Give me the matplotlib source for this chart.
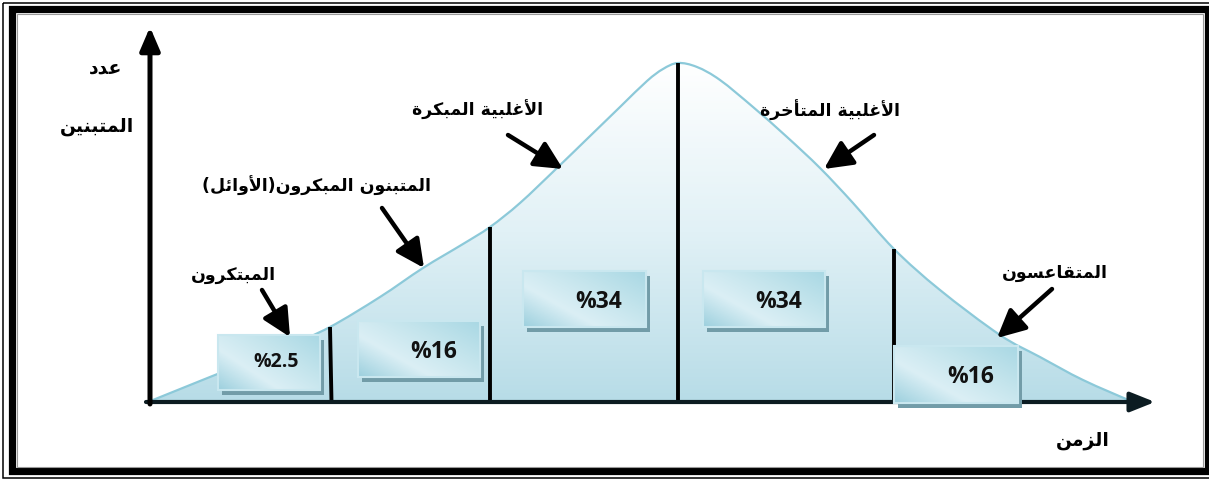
import numpy as np
import matplotlib
matplotlib.use("Agg")
import matplotlib.pyplot as plt
from matplotlib.patches import Rectangle, PathPatch
from matplotlib.path import Path
from matplotlib.colors import LinearSegmentedColormap

# ---------------- data ----------------
# bell curve: time (t) vs number of adopters (n)
curve_t = [0, 52, 102, 142, 182, 232, 275, 315, 342, 372, 409, 439, 472, 499,
           515, 530, 549, 572, 605, 639, 672, 705, 746, 792, 852, 892, 935, 985]
curve_n = [0, 21, 41, 57, 75, 105, 134, 158, 175, 199, 234, 263, 295, 321,
           333, 339, 335, 322, 295, 265, 234, 199, 153, 112, 67, 45, 22, 0]
divider_t = [182, 342, 530, 746]
box_labels = ["%2.5", "%16", "%34", "%34", "%16"]
group_labels = ["المبتكرون", "المتبنون المبكرون(الأوائل)", "الأغلبية المبكرة",
                "الأغلبية المتأخرة", "المتقاعسون"]
y_label = ["عدد", "المتبنين"]
x_label = "الزمن"

# ---------------- arabic shaping (matplotlib has no complex text layout) ----
FORMS = {
    'ا': (0xFE8D, 0xFE8E, None, None), 'أ': (0xFE83, 0xFE84, None, None),
    'ب': (0xFE8F, 0xFE90, 0xFE91, 0xFE92), 'ة': (0xFE93, 0xFE94, None, None),
    'ت': (0xFE95, 0xFE96, 0xFE97, 0xFE98), 'خ': (0xFEA5, 0xFEA6, 0xFEA7, 0xFEA8),
    'د': (0xFEA9, 0xFEAA, None, None), 'ر': (0xFEAD, 0xFEAE, None, None),
    'ز': (0xFEAF, 0xFEB0, None, None), 'س': (0xFEB1, 0xFEB2, 0xFEB3, 0xFEB4),
    'ع': (0xFEC9, 0xFECA, 0xFECB, 0xFECC), 'غ': (0xFECD, 0xFECE, 0xFECF, 0xFED0),
    'ق': (0xFED5, 0xFED6, 0xFED7, 0xFED8), 'ك': (0xFED9, 0xFEDA, 0xFEDB, 0xFEDC),
    'ل': (0xFEDD, 0xFEDE, 0xFEDF, 0xFEE0), 'م': (0xFEE1, 0xFEE2, 0xFEE3, 0xFEE4),
    'ن': (0xFEE5, 0xFEE6, 0xFEE7, 0xFEE8), 'و': (0xFEED, 0xFEEE, None, None),
    'ي': (0xFEF1, 0xFEF2, 0xFEF3, 0xFEF4), 'ئ': (0xFE89, 0xFE8A, 0xFE8B, 0xFE8C),
}
LAMALEF = {'ا': (0xFEFB, 0xFEFC), 'أ': (0xFEF7, 0xFEF8)}


def shape(s):
    res = []
    i, n = 0, len(s)
    while i < n:
        c = s[i]
        if c not in FORMS:
            res.append(c)
            i += 1
            continue
        prev = s[i - 1] if i > 0 else None
        jp = prev in FORMS and FORMS[prev][2] is not None
        if c == 'ل' and i + 1 < n and s[i + 1] in LAMALEF:
            lig = LAMALEF[s[i + 1]]
            res.append(chr(lig[1] if jp else lig[0]))
            i += 2
            continue
        nxt = s[i + 1] if i + 1 < n else None
        jn = FORMS[c][2] is not None and nxt in FORMS
        f = FORMS[c]
        if jp and jn:
            g = f[3]
        elif jp:
            g = f[1]
        elif jn:
            g = f[2]
        else:
            g = f[0]
        res.append(chr(g))
        i += 1
    vis = ''.join(reversed(res))
    return vis.translate(str.maketrans('()', ')('))


# ---------------- figure ----------------
W, H = 1209, 480
fig = plt.figure(figsize=(W / 100, H / 100), dpi=100)
fig.patch.set_facecolor('white')

# frame axes in pixel coordinates
fr = fig.add_axes([0, 0, 1, 1])
fr.set_xlim(0, W)
fr.set_ylim(H, 0)
fr.axis('off')
fr.add_patch(Rectangle((2.5, 2.5), 1230, 475.5, fill=False, ec='black', lw=1.1))
fr.add_patch(Rectangle((11.5, 9), 1196, 462, fill=False, ec='black', lw=5.2))
fr.add_patch(Rectangle((16.5, 13.5), 1186, 453, fill=False, ec='#9a9a9a', lw=0.8))

# chart axes: origin at pixel (148, 402)
OX, OY = 148, 402
ax = fig.add_axes([0, 0, 1, 1])
ax.set_xlim(-OX, W - OX)
ax.set_ylim(OY - H, OY)
ax.axis('off')
ax.patch.set_alpha(0)


def P(px, py):
    return (px - OX, OY - py)


t = np.array(curve_t, float)
nn = np.array(curve_n, float)
# smooth drawing through the read points (Catmull-Rom -> cubic Bezier)
pts = np.column_stack([t, nn])
verts = [tuple(pts[0])]
codes = [Path.MOVETO]
for k in range(len(pts) - 1):
    p0 = pts[k - 1] if k > 0 else pts[k]
    p1 = pts[k]
    p2 = pts[k + 1]
    p3 = pts[k + 2] if k + 2 < len(pts) else pts[k + 1]
    c1 = p1 + (p2 - p0) / 6
    c2 = p2 - (p3 - p1) / 6
    verts += [tuple(c1), tuple(c2), tuple(p2)]
    codes += [Path.CURVE4] * 3
curve_path = Path(verts, codes)
fill_path = Path(verts + [(t[0], 0), (t[0], 0)],
                 codes + [Path.LINETO, Path.CLOSEPOLY])

fp = PathPatch(fill_path, fc='none', ec='none')
ax.add_patch(fp)
grad_cmap = LinearSegmentedColormap.from_list('g', ['#ffffff', '#e1f1f6', '#b7dce7'])
g = np.linspace(0, 1, 256).reshape(-1, 1)
im = ax.imshow(g, cmap=grad_cmap, extent=(t.min(), t.max(), 0, nn.max()),
               origin='upper', aspect='auto', zorder=1, interpolation='bilinear')
im.set_clip_path(fp)
ax.add_patch(PathPatch(curve_path, fc='none', ec='#8cc9d9', lw=1.6, zorder=2))

# dividers
tops = np.interp(divider_t, t, nn)
for k, (dx, top) in enumerate(zip(divider_t, tops)):
    ax.plot([dx, dx + (1.5 if k == 0 else 0)], [top, 0], color='black',
            lw=2.8, solid_capstyle='butt', zorder=3)

# axes arrows
ax.annotate('', xy=P(1155, 402), xytext=P(146, 402),
            arrowprops=dict(arrowstyle='-|>,head_length=0.75,head_width=0.3',
                            lw=3.0, color='#0c1c22', mutation_scale=20,
                            shrinkA=0, shrinkB=0), zorder=4)
ax.annotate('', xy=P(150, 27), xytext=P(150, 404),
            arrowprops=dict(arrowstyle='-|>,head_length=0.7,head_width=0.3',
                            lw=3.6, color='black', mutation_scale=20,
                            shrinkA=0, shrinkB=0), zorder=4)

# boxes
box_pix = [(218, 335, 102, 55), (358, 321, 122, 56), (523, 271, 123, 56),
           (703, 271, 122, 56), (894, 346, 124, 57)]
text_pix = [(276, 362), (434, 352), (599, 302), (779, 302), (971, 377)]
text_size = [14, 16.5, 16.5, 16.5, 16.5]
box_cmap = LinearSegmentedColormap.from_list('b', ['#9dd0de', '#dbeff5', '#c3e4ec', '#a9d8e4'])
yy, xx = np.mgrid[0:1:64j, 0:1:64j]
bg = np.clip(0.55 * xx + 0.45 * (1 - yy), 0, 1)
for (bx, by, bw, bh), (tx, ty), lab, fs in zip(box_pix, text_pix, box_labels, text_size):
    x0, y1 = P(bx, by)
    x1, y0 = P(bx + bw, by + bh)
    ax.add_patch(Rectangle((x0 + 4, y0 - 5), bw, bh, fc='#729ca8', ec='none', zorder=5))
    r = Rectangle((x0, y0), bw, bh, fc='none', ec='none', zorder=6)
    ax.add_patch(r)
    bim = ax.imshow(bg, cmap=box_cmap, extent=(x0, x1, y0, y1), origin='upper',
                    aspect='auto', zorder=6, interpolation='bilinear')
    bim.set_clip_path(r)
    ax.add_patch(Rectangle((x0, y0), bw, bh, fc='none', ec='#c9e7ef', lw=1.5, zorder=7))
    ax.text(*P(tx, ty), lab, fontsize=fs, fontweight='bold', family='Open Sans',
            ha='center', va='center', color='#111111', zorder=8)

# labels with arrows
lab_pix = [(233, 275), (316, 186), (478, 110), (830, 110), (1055, 273)]
arrow_pix = [((262, 290), (290, 337)), ((382, 208), (424, 268)),
             ((508, 135), (563, 169)), ((874, 135), (824, 169)),
             ((1052, 289), (997, 338))]
for (lx, ly), lab, (a0, a1) in zip(lab_pix, group_labels, arrow_pix):
    ax.text(*P(lx, ly), shape(lab), fontsize=12.5, fontweight='bold',
            family='DejaVu Sans', ha='center', va='center', color='black', zorder=8)
    ax.annotate('', xy=P(*a1), xytext=P(*a0),
                arrowprops=dict(arrowstyle='-|>,head_length=0.85,head_width=0.42',
                                lw=3.2, color='black', mutation_scale=20,
                                shrinkA=0, shrinkB=0), zorder=8)

ax.text(*P(106, 68), shape(y_label[0]), fontsize=13.5, fontweight='bold',
        family='DejaVu Sans', ha='center', va='center', zorder=8)
ax.text(*P(97, 126), shape(y_label[1]), fontsize=13.5, fontweight='bold',
        family='DejaVu Sans', ha='center', va='center', zorder=8)
ax.text(*P(1083, 440), shape(x_label), fontsize=13.5, fontweight='bold',
        family='DejaVu Sans', ha='center', va='center', zorder=8)

fig.savefig('out.png', dpi=100, facecolor='white')
